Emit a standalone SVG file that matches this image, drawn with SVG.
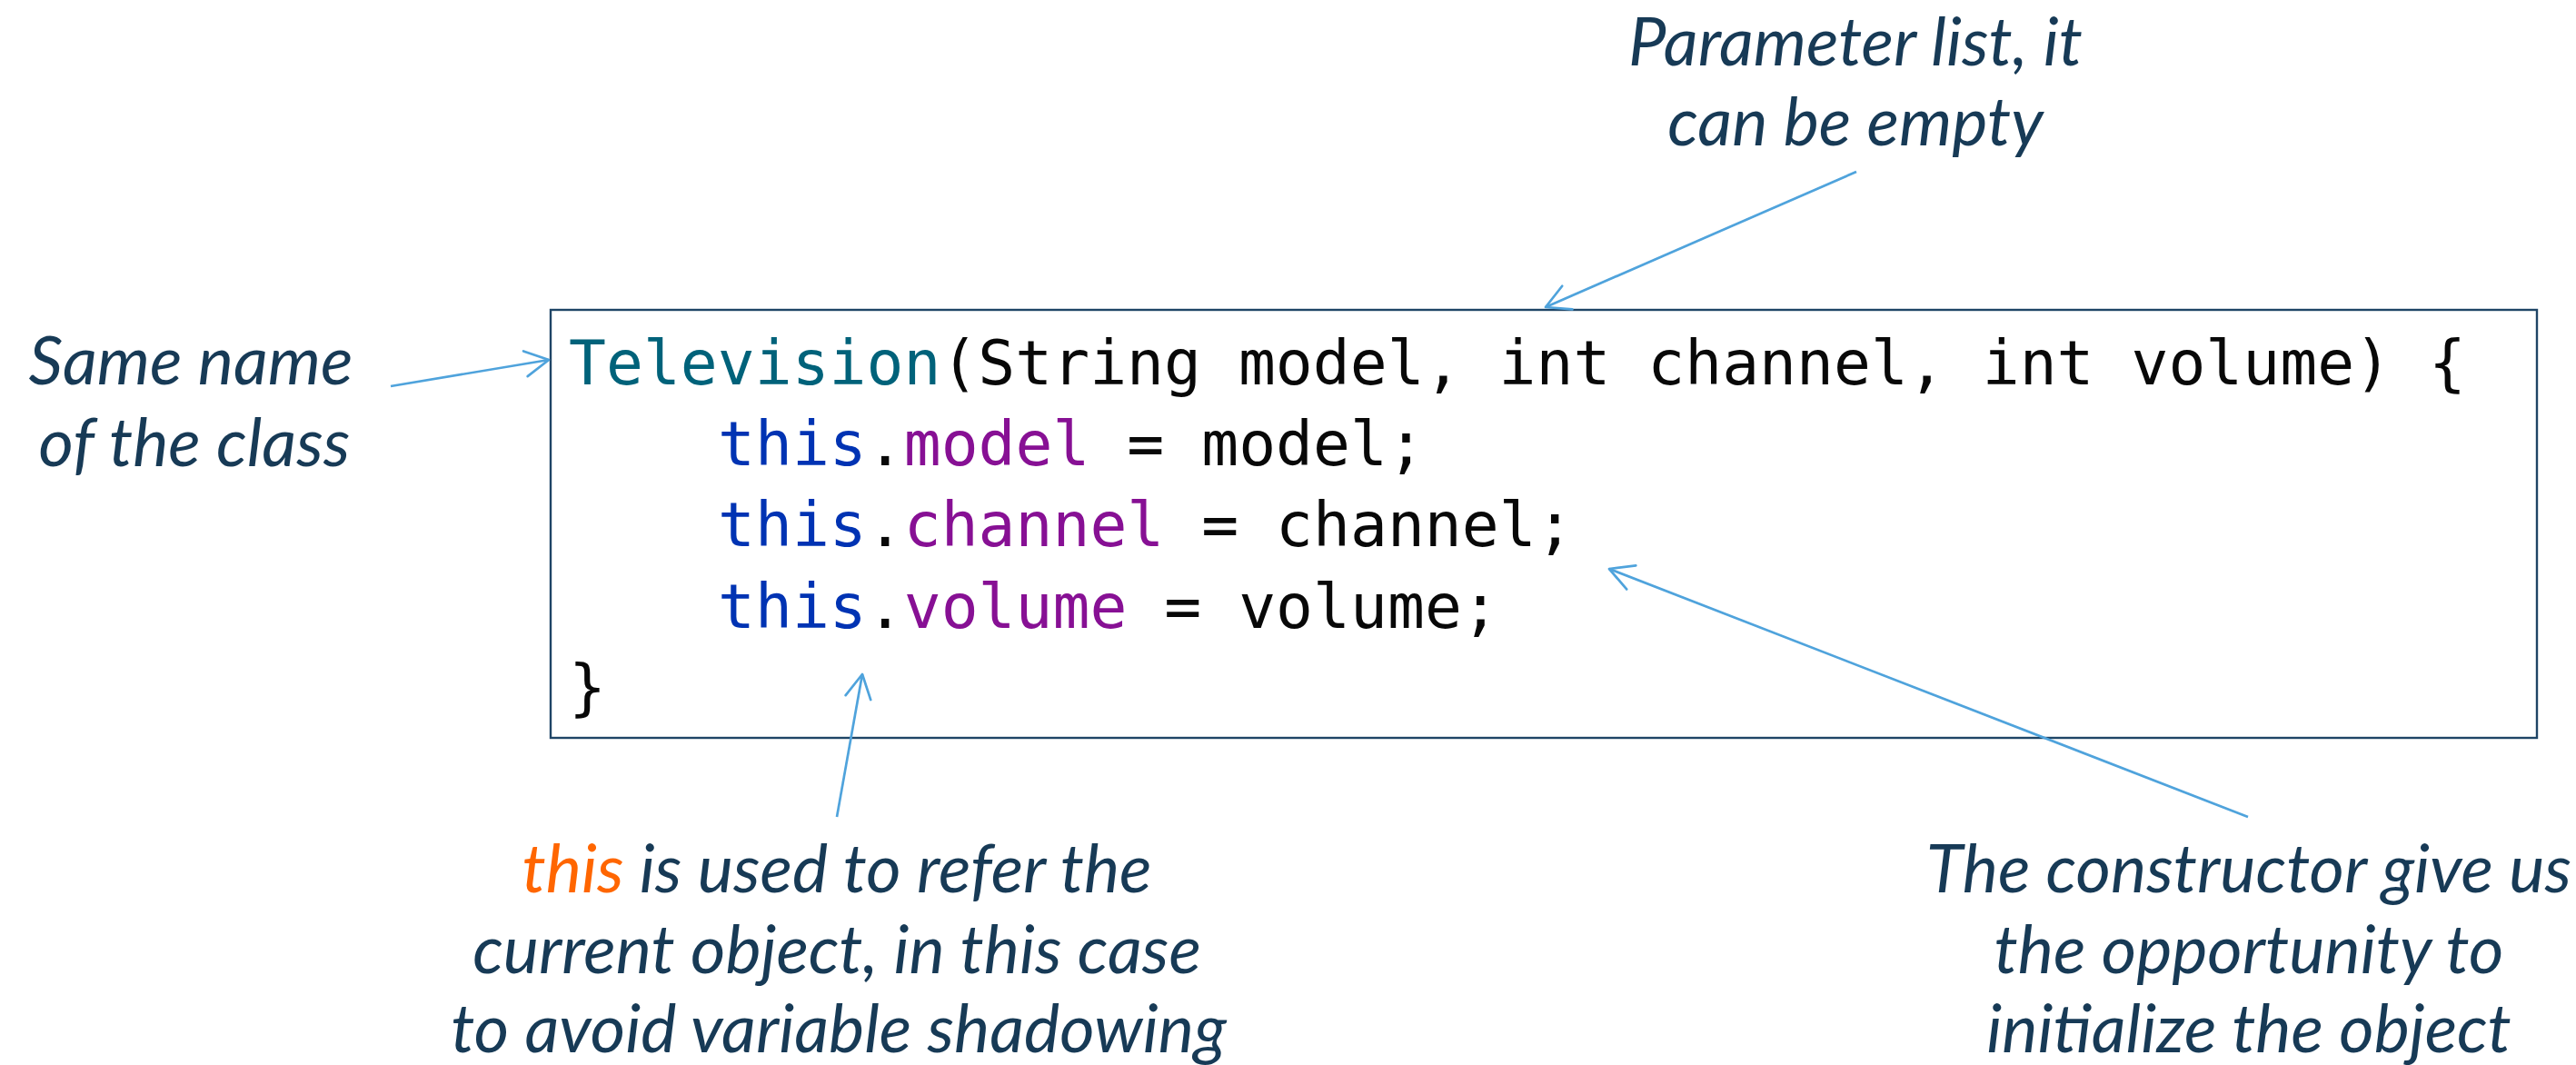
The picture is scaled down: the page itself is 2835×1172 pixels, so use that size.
<svg xmlns="http://www.w3.org/2000/svg" width="2835" height="1172" viewBox="0 0 2835 1172">
  <style>
    .code { font-family: "DejaVu Sans Mono", "Liberation Mono", monospace; font-size: 68px; fill: #080808; }
    .decl { fill: #00627A; }
    .kw { fill: #0033B3; }
    .field { fill: #871094; }
    .note { font-family: Lato, "Open Sans", sans-serif; font-style: italic; font-size: 74px; fill: #173A56; text-anchor: middle; }
    .hl { fill: #FF6600; }
    .frame { fill: #FFFFFF; stroke: #1F4566; stroke-width: 2.4; }
    .conn { fill: none; stroke: #4FA3DC; stroke-width: 2.7; marker-end: url(#open-arrow); }
  </style>
  <defs>
    <marker id="open-arrow" markerUnits="userSpaceOnUse" markerWidth="40" markerHeight="40" refX="0" refY="0" viewBox="-30 -20 40 40" orient="auto" overflow="visible">
      <path d="M -26 -14 L 0 0 L -26 14" fill="none" stroke="#4FA3DC" stroke-width="2.7" stroke-linecap="round" stroke-linejoin="round"/>
    </marker>
  </defs>

  <rect width="2835" height="1172" fill="#FFFFFF"/>

  <!-- constructor source block -->
  <g id="code-block">
    <rect class="frame" x="606" y="341" width="2186" height="471"/>
    <text class="code" x="626" y="423"><tspan class="decl">Television</tspan>(String model, int channel, int volume) {</text>
    <text class="code" x="790" y="512"><tspan class="kw">this</tspan>.<tspan class="field">model</tspan> = model;</text>
    <text class="code" x="790" y="601"><tspan class="kw">this</tspan>.<tspan class="field">channel</tspan> = channel;</text>
    <text class="code" x="790" y="691"><tspan class="kw">this</tspan>.<tspan class="field">volume</tspan> = volume;</text>
    <text class="code" x="626" y="780">}</text>
  </g>

  <!-- annotations -->
  <g id="note-class-name">
    <text class="note" x="210" y="423">Same name</text>
    <text class="note" x="214" y="513">of the class</text>
  </g>

  <g id="note-parameters">
    <text class="note" x="2042" y="72">Parameter list, it</text>
    <text class="note" x="2042" y="160">can be empty</text>
  </g>

  <g id="note-this">
    <text class="note" x="921" y="982"><tspan class="hl">this</tspan> is used to refer the</text>
    <text class="note" x="921" y="1071">current object, in this case</text>
    <text class="note" x="923" y="1158">to avoid variable shadowing</text>
  </g>

  <g id="note-constructor">
    <text class="note" x="2475" y="982">The constructor give us</text>
    <text class="note" x="2475" y="1071">the opportunity to</text>
    <text class="note" x="2475" y="1158">initialize the object</text>
  </g>

  <!-- connectors -->
  <g id="connectors">
    <line class="conn" x1="430" y1="425" x2="604" y2="396"/>
    <line class="conn" x1="2043" y1="189" x2="1701" y2="338"/>
    <line class="conn" x1="2474" y1="899" x2="1771" y2="626"/>
    <line class="conn" x1="921" y1="899" x2="949" y2="742"/>
  </g>
</svg>
